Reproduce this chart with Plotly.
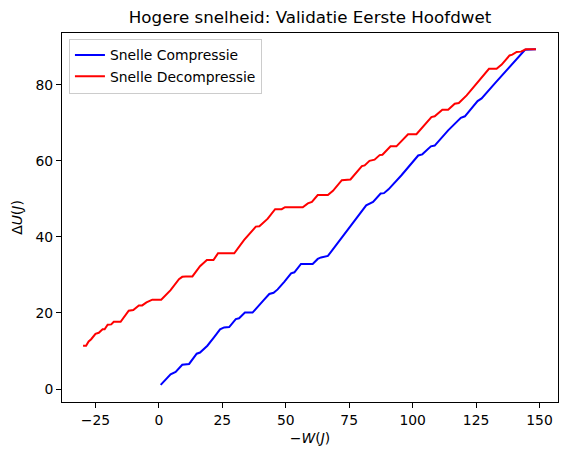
"""Eerste hoofdwet check: -W vs delta U for fast compression / decompression."""

import plotly.graph_objects as go


# =============================================================================
# Data (read off the recorded run)
# =============================================================================
comp_w = [0.7, 2.6, 4.6, 6.6, 9.2, 11.9, 14.9, 16.2, 19.1, 21.7, 24.1, 25.7,
          27.7, 30.3, 31.6, 33.9, 36.9, 41.3, 43.5, 45.2, 46.8, 49.4, 52.1,
          53.4, 56.0, 60.6, 62.6, 63.9, 66.6, 67.9, 81.7, 84.4, 87.4, 88.7,
          90.5, 95.6, 102.2, 103.8, 107.2, 108.7, 114.0, 119.0, 120.6, 125.6,
          127.2, 132.5, 144.3, 148.6]
comp_du = [1.1, 2.4, 3.9, 4.5, 6.4, 6.6, 9.3, 9.6, 11.4, 13.6, 15.7, 16.2,
           16.3, 18.4, 18.6, 20.1, 20.1, 23.4, 25.0, 25.3, 26.2, 28.2, 30.4,
           30.7, 32.9, 32.9, 34.2, 34.6, 35.0, 36.1, 48.3, 49.2, 51.4, 51.5,
           52.5, 56.2, 61.4, 61.7, 63.8, 64.0, 68.0, 71.3, 71.7, 75.7,
           76.4, 80.4, 89.2, 89.3]

decomp_w = [-29.9, -28.7, -27.7, -26.7, -25.0, -23.7, -22.2, -21.4, -20.2,
            -18.8, -17.8, -15.1, -11.9, -10.1, -7.9, -6.6, -4.9, -3.3, -2.6,
            0.9, 4.6, 7.9, 9.2, 10.6, 13.2, 16.2, 18.9, 21.5, 23.3, 29.7,
            33.6, 38.2, 39.6, 42.9, 45.8, 48.4, 49.7, 56.7, 58.7, 60.3, 62.6,
            66.6, 68.6, 72.1, 75.5, 80.0, 81.1, 83.0, 85.0, 87.0, 88.1, 91.3,
            93.6, 98.2, 101.5, 107.4, 108.7, 111.7, 114.0, 116.6, 118.2,
            121.3, 130.1, 133.1, 135.1, 138.2, 139.3, 141.0, 142.7, 144.6,
            148.6]
decomp_du = [11.4, 11.4, 12.5, 13.1, 14.5, 14.8, 15.7, 15.7, 16.9,
             17.0, 17.7, 17.7, 20.6, 20.8, 22.0, 22.0, 22.8, 23.3, 23.5,
             23.5, 26.0, 28.9, 29.5, 29.6, 29.6, 32.3, 33.9, 33.9, 35.7, 35.7,
             39.2, 42.7, 42.8, 44.8, 47.3, 47.3, 47.8, 47.8, 48.8, 49.2, 51.0,
             51.0, 52.1, 54.9, 55.1, 58.6, 58.8, 60.0, 60.3, 61.5, 61.6, 63.8,
             63.8, 67.0, 67.0, 71.5, 71.7, 73.4, 73.4, 75.0, 75.2,
             77.2, 84.2, 84.2, 85.3, 87.7, 87.9, 88.6, 88.7, 89.3,
             89.3]


# =============================================================================
# Figure
# =============================================================================
fig = go.Figure()
fig.add_trace(go.Scatter(
    x=comp_w, y=comp_du, mode='lines', name='Snelle Compressie',
    line=dict(color='blue', width=2),
))
fig.add_trace(go.Scatter(
    x=decomp_w, y=decomp_du, mode='lines', name='Snelle Decompressie',
    line=dict(color='red', width=2),
))

axis_style = dict(
    showgrid=False, zeroline=False,
    showline=True, linecolor='black', linewidth=1, mirror=True,
    ticks='outside', ticklen=5, tickwidth=1, tickcolor='black',
    tickfont=dict(size=13.9, color='black'),
)
fig.update_xaxes(
    range=[-38.2, 157.3], tickvals=[-25, 0, 25, 50, 75, 100, 125, 150],
    ticktext=['−25', '0', '25', '50', '75', '100', '125', '150'],
    title=dict(text='−<i>W</i>(<i>J</i>)', font=dict(size=13.9, color='black'),
               standoff=6),
    **axis_style,
)
fig.update_yaxes(
    range=[-3.4, 93.6], tickvals=[0, 20, 40, 60, 80],
    title=dict(text='Δ<i>U</i>(<i>J</i>)', font=dict(size=13.9, color='black'),
               standoff=9),
    **axis_style,
)

fig.update_layout(
    width=566, height=459,
    margin=dict(l=62, r=8, t=33, b=57),
    paper_bgcolor='white', plot_bgcolor='white',
    font=dict(family='DejaVu Sans', color='black'),
    title=dict(text='Hogere snelheid: Validatie Eerste Hoofdwet',
               x=0.5, xref='paper', xanchor='center',
               y=0.963, yref='container', yanchor='middle',
               font=dict(size=16.7, color='black')),
    legend=dict(x=0.014, y=0.985, xanchor='left', yanchor='top',
                bgcolor='rgba(255,255,255,0.8)', bordercolor='#cccccc',
                borderwidth=1, font=dict(size=13.9, color='black'),
                tracegroupgap=0, itemwidth=30),
    showlegend=True,
)
# page body has an 8px default margin; drop it so the figure sits at 0,0
fig.write_html("out.html", config={'displayModeBar': False},
               post_script="document.body.style.margin='0px';")
